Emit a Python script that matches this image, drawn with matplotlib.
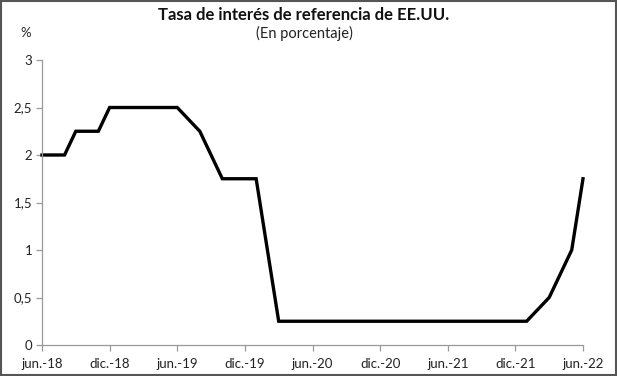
import matplotlib
matplotlib.use("Agg")
import matplotlib.pyplot as plt
from matplotlib.patches import Rectangle

plt.rcParams['font.family'] = ['Lato', 'DejaVu Sans']

# Data: month index from jun-18 (0) to jun-22 (48), values at turning points
months = [0, 2, 3, 5, 6, 12, 14, 16, 19, 21, 43, 45, 47, 48]
rates = [2.0, 2.0, 2.25, 2.25, 2.5, 2.5, 2.25, 1.75, 1.75, 0.25, 0.25, 0.5, 1.0, 1.75]

tick_pos = [0, 6, 12, 18, 24, 30, 36, 42, 48]
tick_labels = ["jun.-18", "dic.-18", "jun.-19", "dic.-19", "jun.-20",
               "dic.-20", "jun.-21", "dic.-21", "jun.-22"]
y_ticks = [0, 0.5, 1, 1.5, 2, 2.5, 3]
y_labels = ["0", "0,5", "1", "1,5", "2", "2,5", "3"]

fig = plt.figure(figsize=(6.17, 3.76), dpi=100)
ax = fig.add_axes([42/617, 1-345/376, (583-42)/617, (345-60)/376])

ax.plot(months, rates, color='black', lw=2.4, solid_joinstyle='miter', clip_on=False)
ax.set_xlim(0, 48)
ax.set_ylim(0, 3)
ax.set_xticks(tick_pos)
ax.set_xticklabels(tick_labels)
ax.set_yticks(y_ticks)
ax.set_yticklabels(y_labels)

for s in ['top', 'right']:
    ax.spines[s].set_visible(False)
for s in ['left', 'bottom']:
    ax.spines[s].set_color('#999999')
    ax.spines[s].set_linewidth(0.9)
ax.tick_params(axis='both', colors='#999999', labelcolor='#222222',
               labelsize=9.5, length=4, width=0.9)
ax.tick_params(axis='x', pad=5)
ax.tick_params(axis='y', pad=3)

fig.text(304/617, 1-15/376, "Tasa de interés de referencia de EE.UU.",
         ha='center', va='center', fontsize=12, fontweight='bold', color='#111111')
fig.text(304/617, 1-33/376, "(En porcentaje)", ha='center', va='center',
         fontsize=10.5, color='#222222')
fig.text(26/617, 1-33/376, "%", ha='center', va='center', fontsize=9.5, color='#222222')

fig.patches.append(Rectangle((0.001, 0.002), 0.997, 0.995, transform=fig.transFigure,
                             fill=False, edgecolor='#555555', lw=1.5))

fig.savefig("out.png", dpi=100)
